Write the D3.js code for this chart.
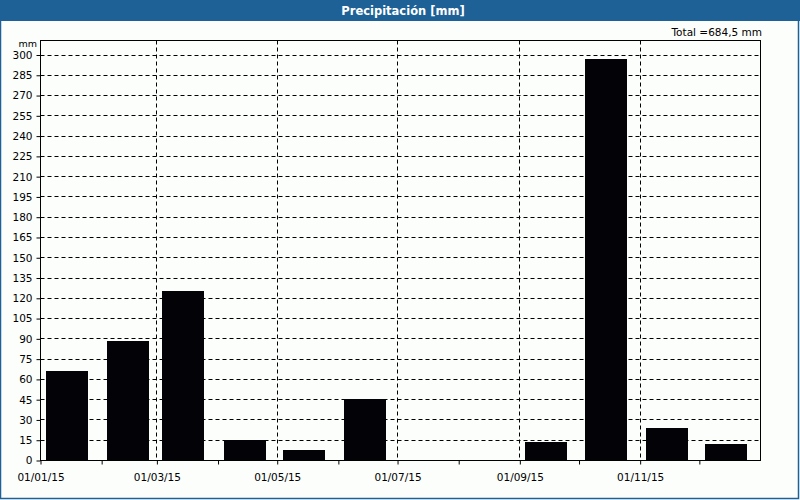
<!DOCTYPE html>
<html><head><meta charset="utf-8">
<script src="https://cdn.jsdelivr.net/npm/d3@7"></script>
<style>html,body{margin:0;padding:0;background:#fcfefc;}svg{display:block;}</style>
</head><body>
<svg id="c" width="800" height="500"></svg>
<script>
const months = ["2015-01-01","2015-02-01","2015-03-01","2015-04-01","2015-05-01","2015-06-01","2015-07-01","2015-08-01","2015-09-01","2015-10-01","2015-11-01","2015-12-01"];
const precip = [65.7, 87.7, 124.7, 15.0, 7.4, 45.3, 0, 0, 13.5, 296.5, 23.9, 11.8];
const yTicks = d3.range(0, 301, 15);
const majorTicks = ["2015-01-01","2015-03-01","2015-05-01","2015-07-01","2015-09-01","2015-11-01"];
const titleText = "Precipitación [mm]";
const totalText = "Total =684,5 mm";
const unitText = "mm";

const parse = d3.utcParse("%Y-%m-%d");
const fmt = d3.utcFormat("%d/%m/%y");
const svg = d3.select("#c");
const W = 800, H = 500;
const L = 40.5, R = 760.5, T = 40.5, B = 460.5;
const font = "Tahoma, 'DejaVu Sans', Verdana, sans-serif";

svg.append("rect").attr("x",0).attr("y",0).attr("width",W).attr("height",H).attr("fill","#fcfefc");
svg.append("rect").attr("x",0.5).attr("y",0.5).attr("width",W-2).attr("height",H-2)
  .attr("fill","none").attr("stroke","#1d6196").attr("stroke-width",1.5);
svg.append("rect").attr("x",0).attr("y",0).attr("width",W).attr("height",21).attr("fill","#1d6196");
svg.append("text").attr("x",403).attr("y",15).attr("text-anchor","middle")
  .attr("fill","#fff").attr("font-family",font).attr("font-size",11.5).attr("font-weight","bold")
  .text(titleText);

const x = d3.scaleUtc().domain([parse("2015-01-01"), parse("2016-01-01")]).range([L, R]);
const y = d3.scaleLinear().domain([0, 300]).range([B, 55]);

// horizontal dashed grid
svg.append("g").selectAll("line").data(yTicks.filter(d=>d>0)).join("line")
  .attr("x1",L).attr("x2",R).attr("y1",d=>Math.floor(y(d))+0.5).attr("y2",d=>Math.floor(y(d))+0.5)
  .attr("stroke","#000").attr("stroke-dasharray","4,3");
// vertical dashed grid
svg.append("g").selectAll("line").data(majorTicks.slice(1)).join("line")
  .attr("x1",d=>Math.floor(x(parse(d)))+0.5).attr("x2",d=>Math.floor(x(parse(d)))+0.5)
  .attr("y1",T).attr("y2",B)
  .attr("stroke","#000").attr("stroke-dasharray","4,3");

// bars
svg.append("g").selectAll("rect").data(months).join("rect")
  .attr("x",(d)=>Math.floor(x(parse(d)))+6)
  .attr("width",42)
  .attr("y",(d,i)=>Math.floor(y(precip[i])))
  .attr("height",(d,i)=>Math.floor(y(0))-Math.floor(y(precip[i])))
  .attr("fill","#030206");

// frame
svg.append("rect").attr("x",L).attr("y",T).attr("width",R-L).attr("height",B-T)
  .attr("fill","none").attr("stroke","#000").attr("stroke-width",1);

// y axis
const ya = d3.axisLeft(y).tickValues(yTicks).tickSize(4).tickFormat(d3.format("d"));
const gy = svg.append("g").attr("transform",`translate(${L},0)`).call(ya);
gy.select(".domain").remove();
gy.selectAll("text").attr("font-family",font).attr("font-size",10.5).attr("fill","#000").attr("dx","-1");
gy.selectAll("line").attr("stroke","#000");

// x axis
const xa = d3.axisBottom(x).tickValues(months.map(parse)).tickSize(4)
  .tickFormat(d => majorTicks.includes(d3.utcFormat("%Y-%m-%d")(d)) ? fmt(d) : "");
const gx = svg.append("g").attr("transform",`translate(0,${B})`).call(xa);
gx.select(".domain").remove();
gx.selectAll("text").attr("font-family",font).attr("font-size",10.5).attr("fill","#000").attr("dy","1.3em");
gx.selectAll("line").attr("stroke","#000");

svg.append("text").attr("x",37).attr("y",47).attr("text-anchor","end")
  .attr("font-family",font).attr("font-size",9.5).text(unitText);
svg.append("text").attr("x",762).attr("y",36).attr("text-anchor","end")
  .attr("font-family",font).attr("font-size",10.5).text(totalText);
</script>
</body></html>
